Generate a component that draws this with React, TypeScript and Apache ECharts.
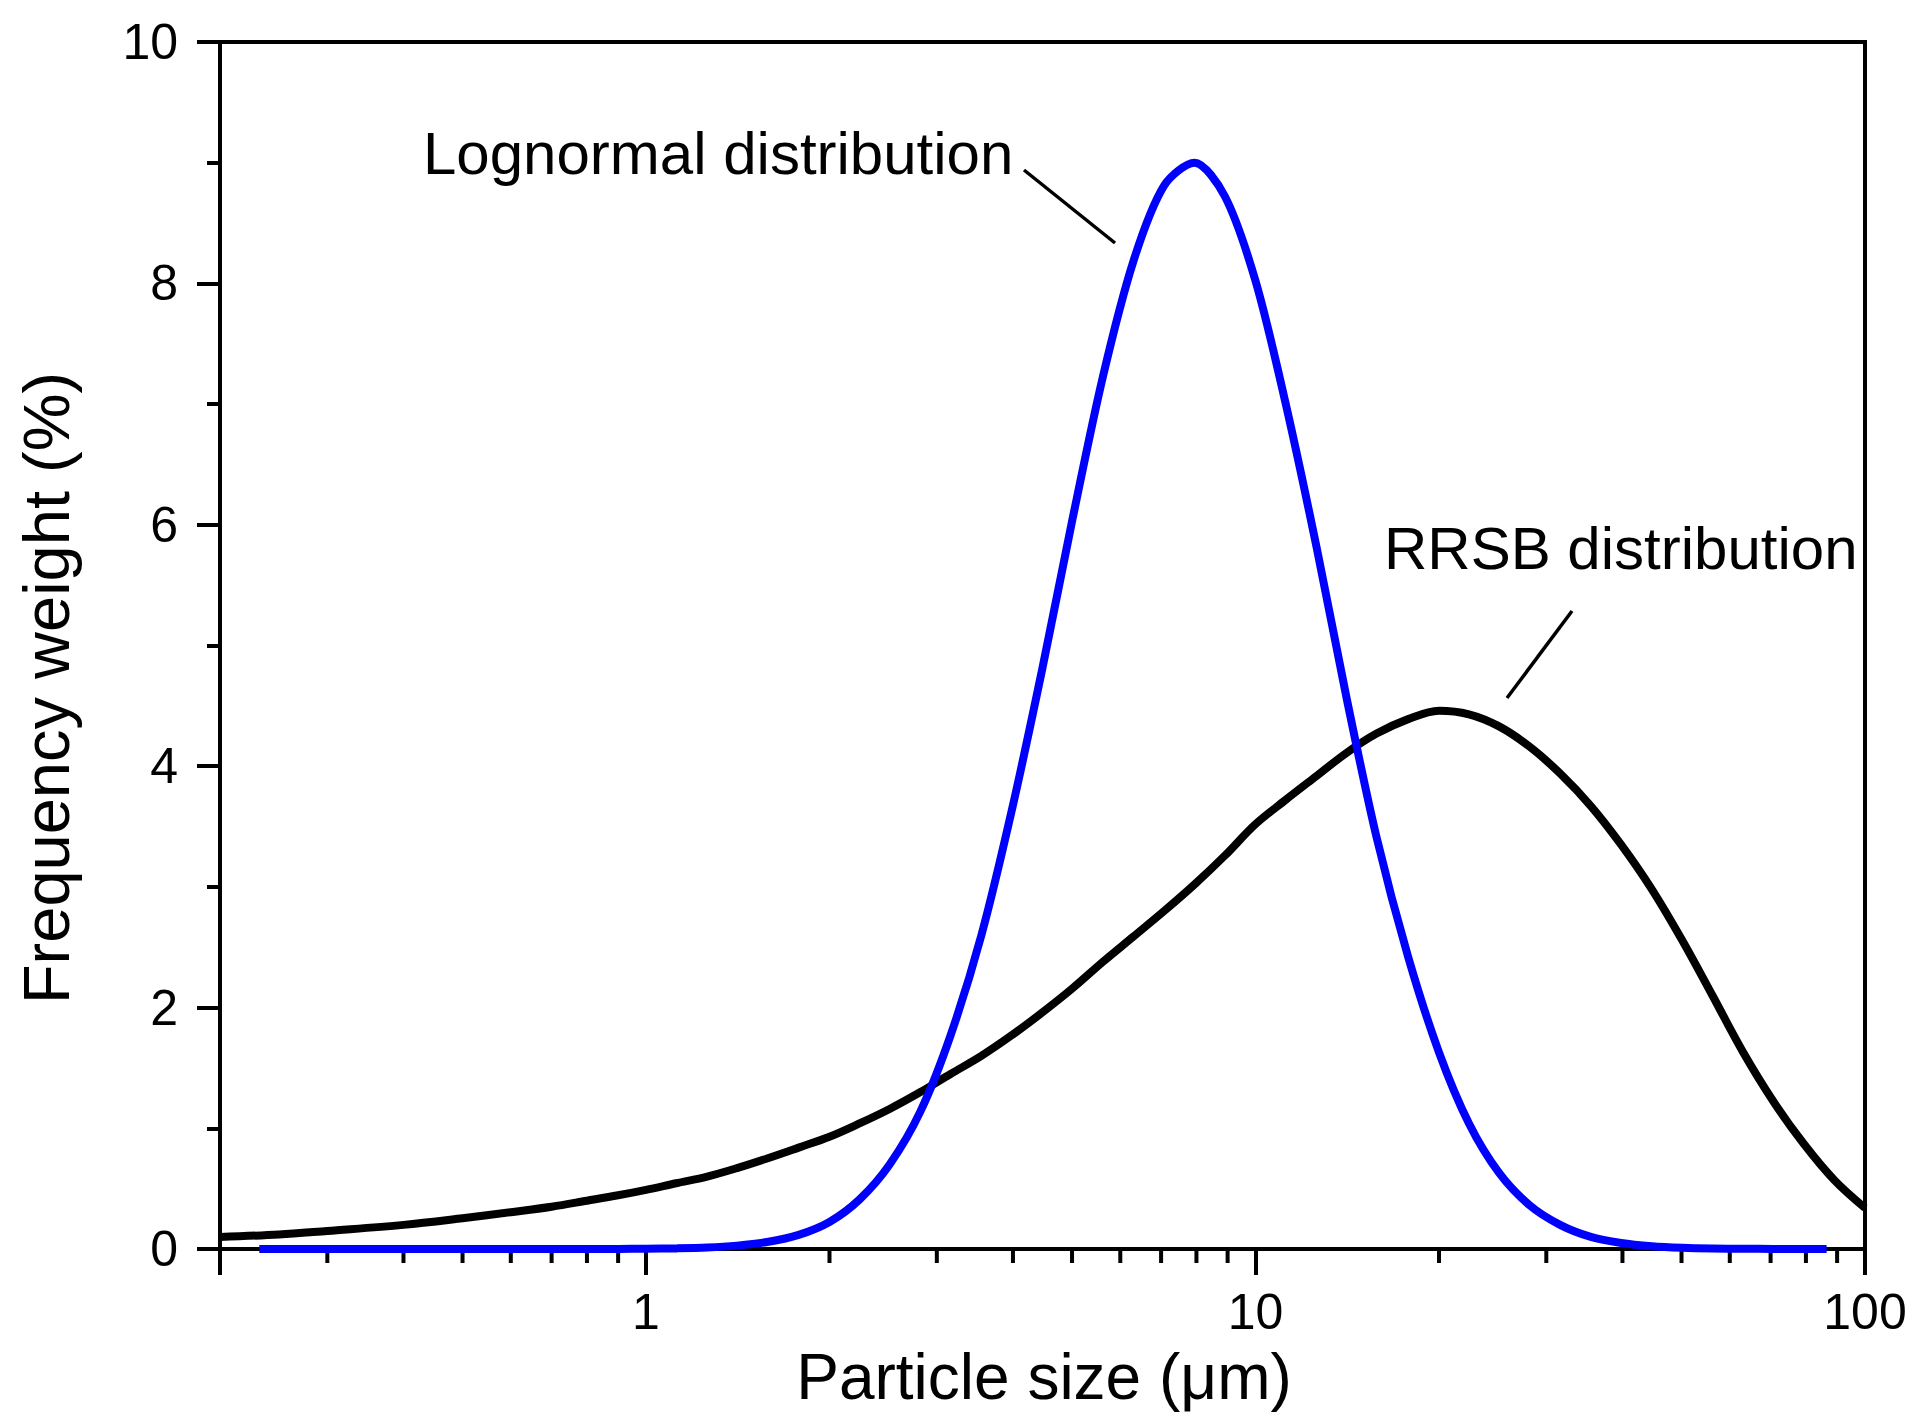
import React, { useEffect, useRef } from "react";
import * as echarts from "echarts";

// ---------- data ----------
// RRSB distribution (black)
const rrsbSize = [0.2, 0.25, 0.3, 0.4, 0.5, 0.6, 0.7, 0.8, 0.9, 1.0, 1.12, 1.26, 1.41, 1.58, 1.78, 2.0, 2.24, 2.51, 2.82, 3.16, 3.55, 3.98, 4.47, 5.01, 5.62, 6.31, 7.08, 7.94, 8.91, 10, 11.2, 12.6, 14.1, 15.8, 17.8, 20, 22.4, 25.1, 28.2, 31.6, 35.5, 39.8, 44.7, 50.1, 56.2, 63.1, 70.8, 79.4, 89.1, 100];
const rrsbFreq = [0.10, 0.12, 0.15, 0.20, 0.255, 0.305, 0.35, 0.40, 0.445, 0.49, 0.545, 0.60, 0.67, 0.75, 0.84, 0.93, 1.04, 1.16, 1.30, 1.45, 1.60, 1.77, 1.96, 2.16, 2.38, 2.59, 2.80, 3.02, 3.26, 3.52, 3.72, 3.92, 4.11, 4.27, 4.39, 4.46, 4.43, 4.33, 4.16, 3.94, 3.67, 3.35, 2.98, 2.56, 2.10, 1.63, 1.22, 0.87, 0.57, 0.34];

// Lognormal distribution (blue)
const lognSize = [0.232, 0.3, 0.4, 0.5, 0.6, 0.7, 0.8, 0.9, 1.0, 1.12, 1.26, 1.41, 1.58, 1.78, 2.0, 2.24, 2.51, 2.82, 3.16, 3.55, 3.98, 4.47, 5.01, 5.62, 6.31, 7.08, 7.94, 8.91, 10, 11.2, 12.6, 14.1, 15.8, 17.8, 20, 22.4, 25.1, 28.2, 31.6, 35.5, 39.8, 44.7, 50.1, 56.2, 63.1, 70.8, 79.4, 86.5];
const lognFreq = [0, 0, 0, 0, 0, 0, 0, 0.001, 0.002, 0.005, 0.012, 0.028, 0.058, 0.117, 0.224, 0.41, 0.70, 1.14, 1.77, 2.60, 3.63, 4.81, 6.05, 7.23, 8.19, 8.81, 9.00, 8.72, 8.02, 7.01, 5.81, 4.57, 3.41, 2.42, 1.63, 1.04, 0.63, 0.36, 0.20, 0.10, 0.05, 0.023, 0.01, 0.004, 0.002, 0.001, 0, 0];

// axes
const xMin = 0.2;
const xMax = 100;
const yMin = 0;
const yMax = 10;
const yStep = 2;
const xMinorTicks = [0.3, 0.4, 0.5, 0.6, 0.7, 0.8, 0.9, 2, 3, 4, 5, 6, 7, 8, 9, 20, 30, 40, 50, 60, 70, 80, 90];

// texts
const xTitle = "Particle size (\u03bcm)";
const yTitle = "Frequency weight (%)";
const lognLabel = "Lognormal distribution";
const rrsbLabel = "RRSB distribution";

const FONT = '"Liberation Sans", Arial, Helvetica, sans-serif';

export default function App() {
  const ref = useRef<HTMLDivElement>(null);

  useEffect(() => {
    document.body.style.margin = "0";
    const chart = echarts.init(ref.current as HTMLDivElement, null, { renderer: "svg" });

    const rrsbData = rrsbSize.map((x, i) => [x, rrsbFreq[i]]);
    const lognData = lognSize.map((x, i) => [x, lognFreq[i]]);

    chart.setOption({
      animation: false,
      backgroundColor: "#ffffff",
      textStyle: { fontFamily: FONT, color: "#000" },
      grid: {
        left: 220,
        right: 50,
        top: 42,
        bottom: 167,
        show: true,
        borderColor: "#000",
        borderWidth: 4,
        backgroundColor: "transparent",
      },
      xAxis: {
        type: "log",
        logBase: 10,
        min: xMin,
        max: xMax,
        axisLine: { show: true, lineStyle: { color: "#000", width: 4 } },
        axisTick: { show: true, inside: false, length: 26, lineStyle: { color: "#000", width: 4 } },
        minorTick: { show: false },
        splitLine: { show: false },
        axisLabel: {
          fontSize: 50,
          fontFamily: FONT,
          color: "#000",
          margin: 38,
          formatter: (v: number) => {
            const l = Math.log10(v);
            return Math.abs(l - Math.round(l)) < 1e-6 ? String(Math.round(v)) : "";
          },
        },
      },
      yAxis: {
        type: "value",
        min: yMin,
        max: yMax,
        interval: yStep,
        axisLine: { show: true, lineStyle: { color: "#000", width: 4 } },
        axisTick: { show: true, inside: false, length: 23, lineStyle: { color: "#000", width: 4 } },
        minorTick: { show: true, splitNumber: 2, length: 13, lineStyle: { color: "#000", width: 4 } },
        splitLine: { show: false },
        minorSplitLine: { show: false },
        axisLabel: { fontSize: 50, fontFamily: FONT, color: "#000", margin: 42 },
      },
      series: [
        {
          type: "custom",
          name: "x minor ticks",
          silent: true,
          z: 1,
          data: xMinorTicks.map((v) => [v, yMin]),
          renderItem: (params: any, api: any) => {
            const p = api.coord([api.value(0), api.value(1)]);
            return {
              type: "line",
              shape: { x1: p[0], y1: p[1], x2: p[0], y2: p[1] + 14 },
              style: { stroke: "#000", lineWidth: 4 },
            };
          },
        },
        {
          type: "line",
          name: rrsbLabel,
          data: rrsbData,
          showSymbol: false,
          symbol: "none",
          smooth: 0.35,
          clip: false,
          z: 3,
          lineStyle: { color: "#000000", width: 8, join: "round", cap: "butt" },
        },
        {
          type: "line",
          name: lognLabel,
          data: lognData,
          showSymbol: false,
          symbol: "none",
          smooth: 0.3,
          clip: false,
          z: 4,
          lineStyle: { color: "#0000ff", width: 8, join: "round", cap: "butt" },
        },
      ],
      graphic: [
        {
          type: "text",
          x: 423,
          y: 153,
          style: {
            text: lognLabel,
            fontSize: 60,
            fontFamily: FONT,
            fill: "#000",
            align: "left",
            verticalAlign: "middle",
            textAlign: "left",
            textVerticalAlign: "middle",
          },
        },
        {
          type: "line",
          shape: { x1: 1024, y1: 170, x2: 1115, y2: 243 },
          style: { stroke: "#000", lineWidth: 3.5 },
        },
        {
          type: "text",
          x: 1384,
          y: 548,
          style: {
            text: rrsbLabel,
            fontSize: 60,
            fontFamily: FONT,
            fill: "#000",
            align: "left",
            verticalAlign: "middle",
            textAlign: "left",
            textVerticalAlign: "middle",
          },
        },
        {
          type: "line",
          shape: { x1: 1572, y1: 611, x2: 1507, y2: 698 },
          style: { stroke: "#000", lineWidth: 3.5 },
        },
        {
          type: "text",
          x: 1044,
          y: 1377,
          style: {
            text: xTitle,
            fontSize: 64,
            fontFamily: FONT,
            fill: "#000",
            align: "center",
            verticalAlign: "middle",
            textAlign: "center",
            textVerticalAlign: "middle",
          },
        },
        {
          type: "text",
          x: 46,
          y: 688,
          rotation: Math.PI / 2,
          style: {
            text: yTitle,
            fontSize: 65,
            fontFamily: FONT,
            fill: "#000",
            align: "center",
            verticalAlign: "middle",
            textAlign: "center",
            textVerticalAlign: "middle",
          },
        },
      ],
    });

    return () => {
      chart.dispose();
    };
  }, []);

  return <div ref={ref} style={{ width: 1915, height: 1416 }} />;
}
